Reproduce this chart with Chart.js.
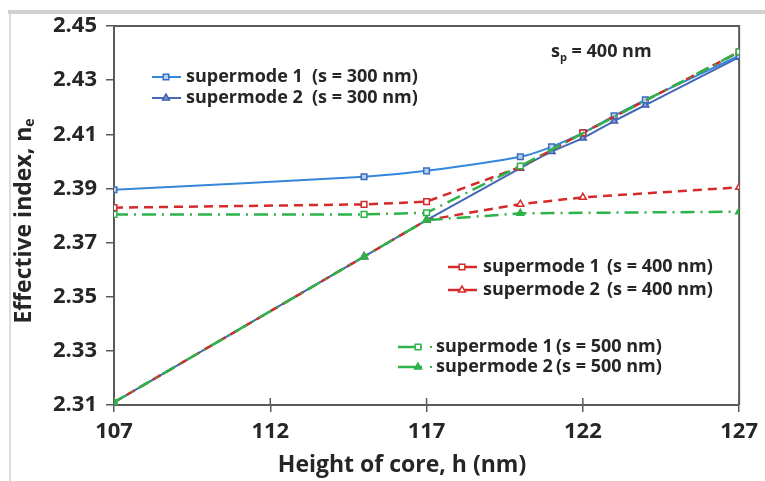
<!DOCTYPE html>
<html>
<head>
<meta charset="utf-8">
<script src="https://cdn.jsdelivr.net/npm/chart.js@4.4.1/dist/chart.umd.min.js"></script>
<style>
  html, body { margin: 0; padding: 0; background: #fff; }
  #wrap { width: 765px; height: 481px; position: relative; }
</style>
</head>
<body>
<div id="wrap"><canvas id="modeChart" width="765" height="481"></canvas></div>
<script>
// Height of core (nm) sampled by each spacing
const hS300 = [107, 115, 117, 120, 121, 122, 123, 124, 127];
const hS400 = [107, 115, 117, 120, 122, 127];
const hS500 = [107, 115, 117, 120, 127];

// Effective index values
const sm1S300 = [2.3895, 2.3943, 2.3965, 2.4017, 2.4054, 2.4105, 2.4168, 2.4227, 2.4390];
const sm2S300 = [2.3110, 2.3648, 2.3783, 2.3975, 2.4036, 2.4086, 2.4149, 2.4208, 2.4385];
const sm1S400 = [2.3829, 2.3841, 2.3851, 2.3979, 2.4105, 2.4404];
const sm2S400 = [2.3110, 2.3648, 2.3783, 2.3842, 2.3867, 2.3904];
const sm1S500 = [2.3804, 2.3804, 2.3810, 2.3983, 2.4405];
const sm2S500 = [2.3110, 2.3648, 2.3783, 2.3808, 2.3814];

// Axis ticks
const xTicks = [107, 112, 117, 122, 127];
const yTicks = [2.31, 2.33, 2.35, 2.37, 2.39, 2.41, 2.43, 2.45];

const seriesLabels = [
    'supermode 1  (s = 300 nm)', 'supermode 2  (s = 300 nm)',
    'supermode 1  (s = 400 nm)', 'supermode 2  (s = 400 nm)',
    'supermode 1 (s = 500 nm)', 'supermode 2 (s = 500 nm)'
];

const pairs = (xs, ys) => xs.map((x, i) => ({ x: x, y: ys[i] }));

const FONT = '"Open Sans", "DejaVu Sans", sans-serif';
const INK = '#262626';

// where each legend entry sits: line start/end, marker x, text x, paren x, y
const legendSpots = [
    { x0: 152, x1: 181, mx: 166, tx: 186, px: 312, y: 77 },
    { x0: 152, x1: 181, mx: 166, tx: 186, px: 312, y: 98 },
    { x0: 448, x1: 477, mx: 462, tx: 483, px: 607, y: 267 },
    { x0: 448, x1: 477, mx: 462, tx: 483, px: 607, y: 290 },
    { x0: 398, x1: 422, mx: 418, tx: 436, px: 556, y: 347, dot: 431 },
    { x0: 398, x1: 422, mx: 418, tx: 436, px: 556, y: 367, dot: 431 }
];

const decor = {
    id: 'decor',
    beforeDraw(chart) {
        const ctx = chart.ctx;
        ctx.save();
        // page edges of the clipped figure
        ctx.fillStyle = '#d0d0d0';
        ctx.fillRect(8, 10, 757, 4);
        ctx.fillStyle = '#dcdcdc';
        ctx.fillRect(9, 14, 2, 467);
        ctx.restore();
    },
    beforeDatasetsDraw(chart) {
        const { ctx, chartArea: a } = chart;
        ctx.save();
        ctx.strokeStyle = '#5a5a5a';
        ctx.lineWidth = 2;
        ctx.beginPath();
        ctx.moveTo(a.left, a.top);
        ctx.lineTo(a.right, a.top);
        ctx.lineTo(a.right, a.bottom);
        ctx.stroke();
        // x tick marks reach a little into the plot
        const xs = chart.scales.x;
        ctx.lineWidth = 1.5;
        xTicks.forEach(v => {
            const px = xs.getPixelForValue(v);
            ctx.beginPath();
            ctx.moveTo(px, a.bottom - 7);
            ctx.lineTo(px, a.bottom);
            ctx.stroke();
        });
        ctx.restore();
    },
    afterDraw(chart) {
        const ctx = chart.ctx;
        ctx.save();
        ctx.fillStyle = INK;
        ctx.textBaseline = 'middle';

        // axis titles
        ctx.font = 'bold 23px ' + FONT;
        ctx.textAlign = 'center';
        ctx.fillText('Height of core, h (nm)', 402, 465);

        ctx.save();
        ctx.translate(24, 221);
        ctx.rotate(-Math.PI / 2);
        const main = 'Effective index, n';
        ctx.font = 'bold 23px ' + FONT;
        const wMain = ctx.measureText(main).width;
        ctx.font = 'bold 14px ' + FONT;
        const wSub = ctx.measureText('e').width;
        const start = -(wMain + wSub) / 2;
        ctx.textAlign = 'left';
        ctx.font = 'bold 23px ' + FONT;
        ctx.fillText(main, start, 0);
        ctx.font = 'bold 14px ' + FONT;
        ctx.fillText('e', start + wMain, 6);
        ctx.restore();

        // s_p note
        ctx.textAlign = 'left';
        ctx.font = 'bold 18px ' + FONT;
        ctx.fillText('s', 551, 52);
        const ws = ctx.measureText('s').width;
        ctx.font = 'bold 11px ' + FONT;
        ctx.fillText('p', 551 + ws, 58);
        const wp = ctx.measureText('p').width;
        ctx.font = 'bold 18px ' + FONT;
        ctx.fillText(' = 400 nm', 551 + ws + wp, 52);

        // legend groups
        chart.data.datasets.forEach((ds, i) => {
            const s = legendSpots[i];
            ctx.save();
            ctx.strokeStyle = ds.borderColor;
            ctx.lineWidth = ds.borderWidth;
            ctx.beginPath();
            ctx.moveTo(s.x0, s.y);
            ctx.lineTo(s.x1, s.y);
            ctx.stroke();
            if (s.dot) {
                ctx.fillStyle = ds.borderColor;
                ctx.fillRect(s.dot - 1, s.y - 1, 2, 2);
            }
            ctx.fillStyle = ds.pointBackgroundColor;
            ctx.strokeStyle = ds.pointBorderColor;
            ctx.lineWidth = ds.pointBorderWidth;
            Chart.helpers.drawPoint(ctx, {
                pointStyle: ds.pointStyle,
                radius: ds.pointRadius,
                borderWidth: ds.pointBorderWidth,
                rotation: 0
            }, s.mx, s.y);
            ctx.restore();

            const cut = ds.label.indexOf('(');
            ctx.font = 'bold 18px ' + FONT;
            ctx.fillStyle = INK;
            ctx.textAlign = 'left';
            ctx.fillText(ds.label.slice(0, cut).trim(), s.tx, s.y);
            ctx.fillText(ds.label.slice(cut), s.px, s.y);
        });
        ctx.restore();
    }
};

const ctx = document.getElementById('modeChart').getContext('2d');
new Chart(ctx, {
    type: 'line',
    data: {
        datasets: [
            {
                label: seriesLabels[0],
                data: pairs(hS300, sm1S300),
                borderColor: '#3487da',
                borderWidth: 2,
                tension: 0.35,
                pointStyle: 'rect',
                pointRadius: 4,
                pointBorderWidth: 1.5,
                pointBorderColor: '#3a6fc0',
                pointBackgroundColor: '#b9d0ee',
                order: 3
            },
            {
                label: seriesLabels[1],
                data: pairs(hS300, sm2S300),
                borderColor: '#4468b8',
                borderWidth: 2,
                tension: 0.2,
                pointStyle: 'triangle',
                pointRadius: 4,
                pointBorderWidth: 1.5,
                pointBorderColor: '#3f5fae',
                pointBackgroundColor: '#7f9ad6',
                order: 4
            },
            {
                label: seriesLabels[2],
                data: pairs(hS400, sm1S400),
                borderColor: '#d42a2a',
                borderWidth: 2.5,
                borderDash: [9, 6],
                tension: 0,
                pointStyle: 'rect',
                pointRadius: 4,
                pointBorderWidth: 1.5,
                pointBorderColor: '#d42a2a',
                pointBackgroundColor: '#ffffff',
                order: 2
            },
            {
                label: seriesLabels[3],
                data: pairs(hS400, sm2S400),
                borderColor: '#d42a2a',
                borderWidth: 2.5,
                borderDash: [9, 6],
                tension: 0,
                pointStyle: 'triangle',
                pointRadius: 4,
                pointBorderWidth: 1.5,
                pointBorderColor: '#d42a2a',
                pointBackgroundColor: '#ffffff',
                order: 2
            },
            {
                label: seriesLabels[4],
                data: pairs(hS500, sm1S500),
                borderColor: '#2cb34a',
                borderWidth: 2.5,
                borderDash: [14, 6, 2, 6],
                tension: 0,
                pointStyle: 'rect',
                pointRadius: 4,
                pointBorderWidth: 1.5,
                pointBorderColor: '#2cb34a',
                pointBackgroundColor: '#ffffff',
                order: 1
            },
            {
                label: seriesLabels[5],
                data: pairs(hS500, sm2S500),
                borderColor: '#2cb34a',
                borderWidth: 2.5,
                borderDash: [14, 6, 2, 6],
                tension: 0,
                pointStyle: 'triangle',
                pointRadius: 4,
                pointBorderWidth: 1.5,
                pointBorderColor: '#2cb34a',
                pointBackgroundColor: '#2cb34a',
                order: 1
            }
        ]
    },
    options: {
        responsive: false,
        animation: false,
        layout: { padding: { left: 0, right: 16, top: 26, bottom: 0 } },
        plugins: {
            legend: { display: false },
            tooltip: { enabled: false }
        },
        scales: {
            x: {
                type: 'linear',
                min: 107,
                max: 127,
                afterBuildTicks: s => { s.ticks = xTicks.map(v => ({ value: v })); },
                afterFit: s => { s.height = 76; },
                border: { color: '#5a5a5a', width: 2 },
                grid: { drawOnChartArea: false, tickLength: 7, color: '#5a5a5a', lineWidth: 1.5 },
                ticks: {
                    padding: 7,
                    color: INK,
                    font: { family: FONT, size: 22, weight: 'bold' },
                    maxRotation: 0
                }
            },
            y: {
                min: 2.31,
                max: 2.45,
                afterBuildTicks: s => { s.ticks = yTicks.map(v => ({ value: v })); },
                afterFit: s => { s.width = 114; },
                border: { color: '#5a5a5a', width: 2 },
                grid: { drawOnChartArea: false, tickLength: 8, color: '#5a5a5a', lineWidth: 1.5 },
                ticks: {
                    padding: 9,
                    color: INK,
                    font: { family: FONT, size: 22, weight: 'bold' },
                    callback: v => v.toFixed(2)
                }
            }
        }
    },
    plugins: [decor]
});
</script>
</body>
</html>
